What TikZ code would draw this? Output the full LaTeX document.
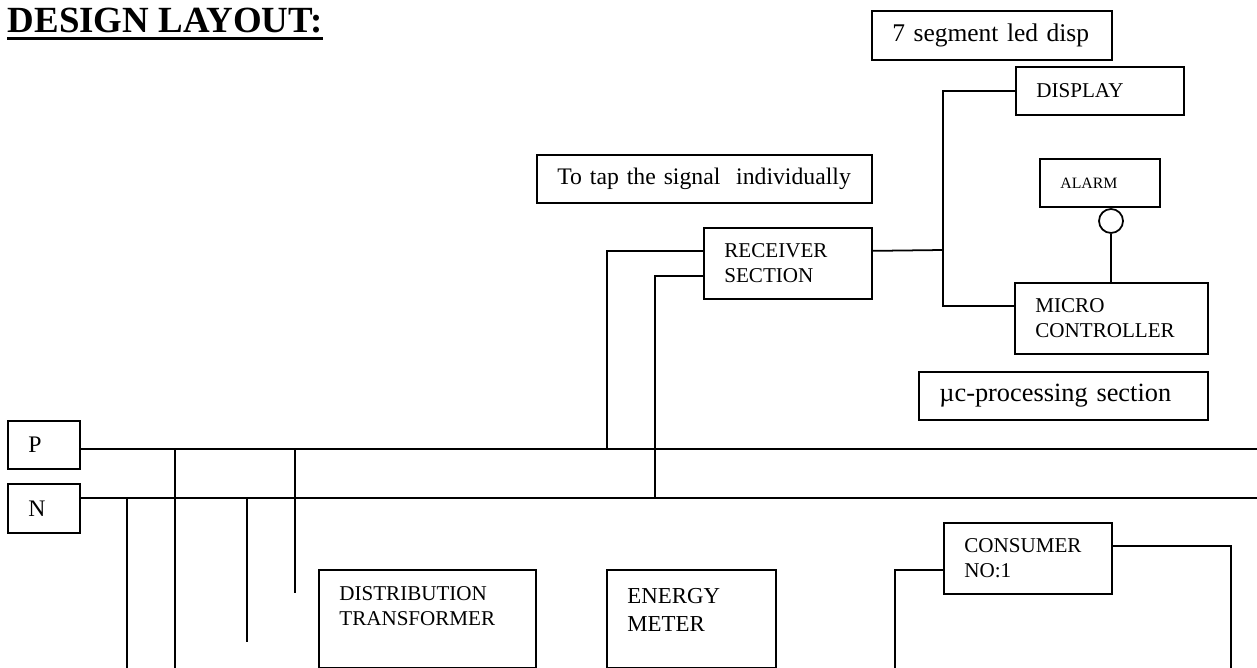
\documentclass[tikz,border=0pt]{standalone}
\usepackage{fontspec}
\setmainfont{Liberation Serif}
\usetikzlibrary{calc}

\begin{document}
\begin{tikzpicture}[x=0.02cm,y=-0.02cm,line width=1pt,
  blk/.style={draw,rectangle,anchor=north west,align=left,inner xsep=0.41cm,inner ysep=0pt,font=\fontsize{12}{14.2}\selectfont}]
\useasboundingbox (0,0) rectangle (1257,668);

\node[anchor=base west,inner sep=0pt,font=\bfseries\fontsize{21}{25}\selectfont] (title) at (7,33) {DESIGN LAYOUT:};
\draw[line width=1.7pt] ([yshift=-0.12cm]title.base west) -- ([yshift=-0.12cm]title.base east);

\node[blk,text width=3.98cm,minimum height=0.98cm,font=\fontsize{14.5}{17}\selectfont] (seg) at (871,10) {7 segment led disp};
\node[blk,text width=2.54cm,minimum height=0.96cm] (dsp) at (1015,66) {DISPLAY};
\node[blk,text width=5.88cm,minimum height=0.96cm,font=\fontsize{13.5}{16}\selectfont] (tap) at (536,154) {To tap the signal~ individually};
\node[blk,text width=1.58cm,minimum height=0.96cm,font=\fontsize{9}{11}\selectfont] (alm) at (1039,158) {ALARM};
\node[blk,text width=2.54cm,minimum height=1.42cm] (rcv) at (703,227) {RECEIVER\\SECTION};
\node[blk,text width=3.04cm,minimum height=1.42cm] (mcu) at (1014,282) {MICRO\\CONTROLLER};
\node[blk,text width=4.96cm,minimum height=0.96cm,font=\fontsize{15}{18}\selectfont] (muc) at (918,371) {µc-processing section};
\node[blk,text width=0.62cm,minimum height=0.96cm,font=\fontsize{13.5}{16}\selectfont] (pbox) at (7,420) {P};
\node[blk,text width=0.62cm,minimum height=0.98cm,font=\fontsize{13.5}{16}\selectfont] (nbox) at (7,483) {N};
\node[blk,text width=3.52cm,minimum height=1.96cm,text depth=28.3pt] (dt) at (318,569) {DISTRIBUTION\\TRANSFORMER};
\node[blk,text width=2.56cm,minimum height=1.96cm,text depth=26.2pt,font=\fontsize{13}{15.8}\selectfont] (em) at (606,569) {ENERGY\\METER};
\node[blk,text width=2.54cm,minimum height=1.42cm] (cons) at (943,522) {CONSUMER\\NO:1};

\node[draw,circle,minimum size=0.48cm,inner sep=0pt] (bell) at (1111,221) {};
\draw (bell.south) -- (bell.south |- mcu.north);

\coordinate (jn) at (943,250);
\draw ([yshift=0.25cm]rcv.east) -- (jn);
\draw (dsp.west) -| (jn) |- ([yshift=0.24cm]mcu.west);

\coordinate (pend) at (1257,449);
\coordinate (nend) at (1257,498);
\draw (pbox.east |- pend) -- (pend);
\draw (nbox.east |- nend) -- (nend);

\coordinate (tp) at (607,449);
\coordinate (tn) at (655,498);
\draw ([yshift=0.25cm]rcv.west) -| (tp);
\draw ([yshift=-0.25cm]rcv.west) -| (tn);

\foreach \x/\y/\bus in {127/668/nend,175/668/pend,247/642/nend,295/593/pend}{
  \coordinate (d) at (\x,\y);
  \draw (d |- \bus) -- (d);
}

\coordinate (cl) at (895,668);
\coordinate (cr) at (1231,668);
\draw ([yshift=-0.23cm]cons.west) -| (cl);
\draw ([yshift=0.25cm]cons.east) -| (cr);
\end{tikzpicture}
\end{document}
